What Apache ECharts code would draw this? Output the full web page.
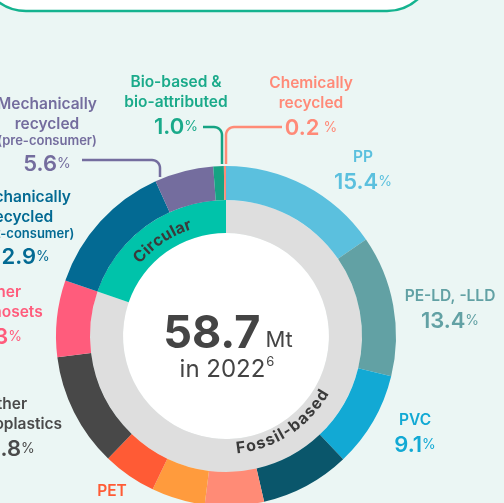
<!DOCTYPE html>
<html>
<head>
<meta charset="utf-8">
<script src="https://cdn.jsdelivr.net/npm/echarts@6/dist/echarts.min.js"></script>
<style>
html, body { margin: 0; padding: 0; background: #EBF6F4; }
#chart { width: 504px; height: 503px; }
</style>
</head>
<body>
<div id="chart"></div>
<script>
// outer ring, clockwise from 12 o'clock (share of 58.7 Mt, %)
const categories = ['PP', 'PE-LD, -LLD', 'PVC', 'PE-HD, -MD', 'PS, PS-E', 'PUR', 'PET',
  'Other\nthermoplastics', 'Other\nthermosets', 'Mechanically\nrecycled\n(post-consumer)',
  'Mechanically\nrecycled\n(pre-consumer)', 'Bio-based &\nbio-attributed', 'Chemically\nrecycled']
const shares = [15.4, 13.4, 9.1, 8.5, 5.6, 5.1, 5.1, 10.8, 7.3, 12.9, 5.6, 1.0, 0.2]

// inner ring
const groups = ['Fossil-based', 'Circular']
const groupShares = [80.3, 19.7]

const totalMt = '58.7'
const unit = 'Mt'
const yearText = 'in 2022'
const footnote = '6'

// styles
const sliceColors = ['#5BC0DE', '#62A1A4', '#12A9D4', '#0A566B', '#FF8B76', '#FF9B3D', '#FF5B35',
  '#484848', '#FF5C7C', '#036A93', '#746D9E', '#16A383', '#FF8B76']
const labelColors = ['#5BC0DE', '#62A1A4', '#12A9D4', '#0A566B', '#FF8B76', '#FF9B3D', '#FF5B35',
  '#4A4A4A', '#FF5C7C', '#036A93', '#746D9E', '#1AAA8A', '#FF8A78']
const groupColors = ['#DEDEDE', '#00C3AA']
// label anchor: [center x, top y]
const labelPos = [[363, 147], [450, 286], [415, 410], [330, 530], [250, 545], [180, 545], [112, 481],
  [6, 394], [0, 282], [21, 187], [47, 94], [176, 72], [311, 73]]

const cx = 226, cy = 336
const FONT = 'Inter'

function labelText(i) {
  let lines = categories[i].split('\n').map(l => l[0] === '(' ? '{s|' + l + '}' : '{n|' + l + '}')
  let pct = i === 12 ? '{p| %}' : '{p|%}'
  lines.push('{v|' + shares[i].toFixed(1) + '}' + pct)
  return lines.join('\n')
}

const ctx = document.createElement('canvas').getContext('2d')
function textWidth(str, size, weight) {
  ctx.font = weight + ' ' + size + 'px ' + FONT
  return ctx.measureText(str).width
}

// letters along the inner ring
function arcText(str, phiMid, r, flip, size, spacing) {
  const chars = [...str]
  const widths = chars.map(ch => textWidth(ch, size, 700) + spacing)
  const total = widths.reduce((a, b) => a + b, 0)
  let off = 0
  return chars.map((ch, k) => {
    const mid = (off + widths[k] / 2 - total / 2) / r
    off += widths[k]
    const phi = flip ? phiMid - mid : phiMid + mid
    const rot = flip ? phi - Math.PI : phi
    return {
      type: 'text', silent: true, z: 100,
      x: cx + r * Math.sin(phi), y: cy - r * Math.cos(phi), rotation: -rot,
      style: { text: ch, fontSize: size, fontWeight: 700, fontFamily: FONT, fill: '#3A3A3A',
        align: 'center', verticalAlign: 'middle', textAlign: 'center', textVerticalAlign: 'middle' }
    }
  })
}

const deg = Math.PI / 180
const bigW = textWidth(totalMt, 45, 700), unitW = textWidth(unit, 22, 400)
const x0 = 228 - (bigW + 5 + unitW) / 2
const yrW = textWidth(yearText, 24, 400), supW = textWidth(footnote, 13, 400)
const x1 = 227 - (yrW + supW + 1) / 2

function txt(x, y, text, size, weight, color, align) {
  return { type: 'text', silent: true, z: 100, x: x, y: y,
    style: { text: text, fontSize: size, fontWeight: weight, fontFamily: FONT, fill: color,
      align: align, verticalAlign: 'bottom', textAlign: align, textVerticalAlign: 'bottom' } }
}
// horizontal leader with a rounded bend down to the ring
function leader(xs, y, xv, yEnd, color) {
  const r = 8, dir = xv > xs ? 1 : -1
  const pts = [[xs, y]]
  for (let k = 0; k <= 8; k++) {
    const t = k / 8 * Math.PI / 2
    pts.push([xv - dir * r + dir * r * Math.sin(t), y + r - r * Math.cos(t)])
  }
  pts.push([xv, yEnd])
  return { type: 'polyline', silent: true, z: 100, shape: { points: pts },
    style: { fill: null, stroke: color, lineWidth: 2.5 } }
}

const chart = echarts.init(document.getElementById('chart'))
chart.setOption({
  backgroundColor: '#EBF6F4',
  animation: false,
  graphic: {
    elements: [
      { type: 'rect', silent: true, z: 1, shape: { x: -20, y: -200, width: 453, height: 211, r: 46 },
        style: { fill: '#FFFFFF', stroke: '#14B38F', lineWidth: 2.5 } },
      leader(203, 127, 222, 164, '#16A383'),
      leader(282, 127, 226, 164, '#FF8B76'),
      leader(82, 160, 160, 177, '#746D9E'),
      txt(x0, 357, totalMt, 45, 700, '#444444', 'left'),
      txt(x0 + bigW + 5, 351, unit, 22, 400, '#444444', 'left'),
      txt(x1, 382, yearText, 24, 400, '#444444', 'left'),
      txt(x1 + yrW + 1, 369, footnote, 13, 400, '#444444', 'left')
    ].concat(arcText(groups[1], -33.7 * deg, 117, false, 16, 0.6))
     .concat(arcText(groups[0], 147 * deg, 113, true, 16, 0.8))
  },
  series: [
    {
      type: 'pie', silent: true, center: [cx, cy], radius: [0, 103],
      label: { show: false }, labelLine: { show: false },
      data: [{ value: 1, itemStyle: { color: '#FFFFFF' } }]
    },
    {
      type: 'pie', silent: true, center: [cx, cy], radius: [103, 136], startAngle: 90, clockwise: true,
      label: { show: false }, labelLine: { show: false },
      data: groups.map((g, i) => ({ name: g, value: groupShares[i], itemStyle: { color: groupColors[i] } }))
    },
    {
      type: 'pie', silent: true, center: [cx, cy], radius: [136, 170], startAngle: 90, clockwise: true,
      avoidLabelOverlap: false,
      data: categories.map((c, i) => ({
        name: c, value: shares[i],
        itemStyle: { color: sliceColors[i] },
        label: { color: labelColors[i] }
      })),
      label: {
        show: true, position: 'outside', align: 'center',
        formatter: p => labelText(p.dataIndex),
        fontFamily: FONT,
        rich: {
          n: { fontSize: 15.5, fontWeight: 600, lineHeight: 20, fontFamily: FONT },
          s: { fontSize: 13, fontWeight: 600, lineHeight: 15, fontFamily: FONT },
          v: { fontSize: 22, fontWeight: 600, lineHeight: 30, fontFamily: FONT },
          p: { fontSize: 14, fontWeight: 400, lineHeight: 30, fontFamily: FONT }
        }
      },
      labelLine: { show: false },
      labelLayout: p => ({ x: labelPos[p.dataIndex][0], y: labelPos[p.dataIndex][1], align: 'center', verticalAlign: 'top' })
    }
  ]
})
</script>
</body>
</html>
